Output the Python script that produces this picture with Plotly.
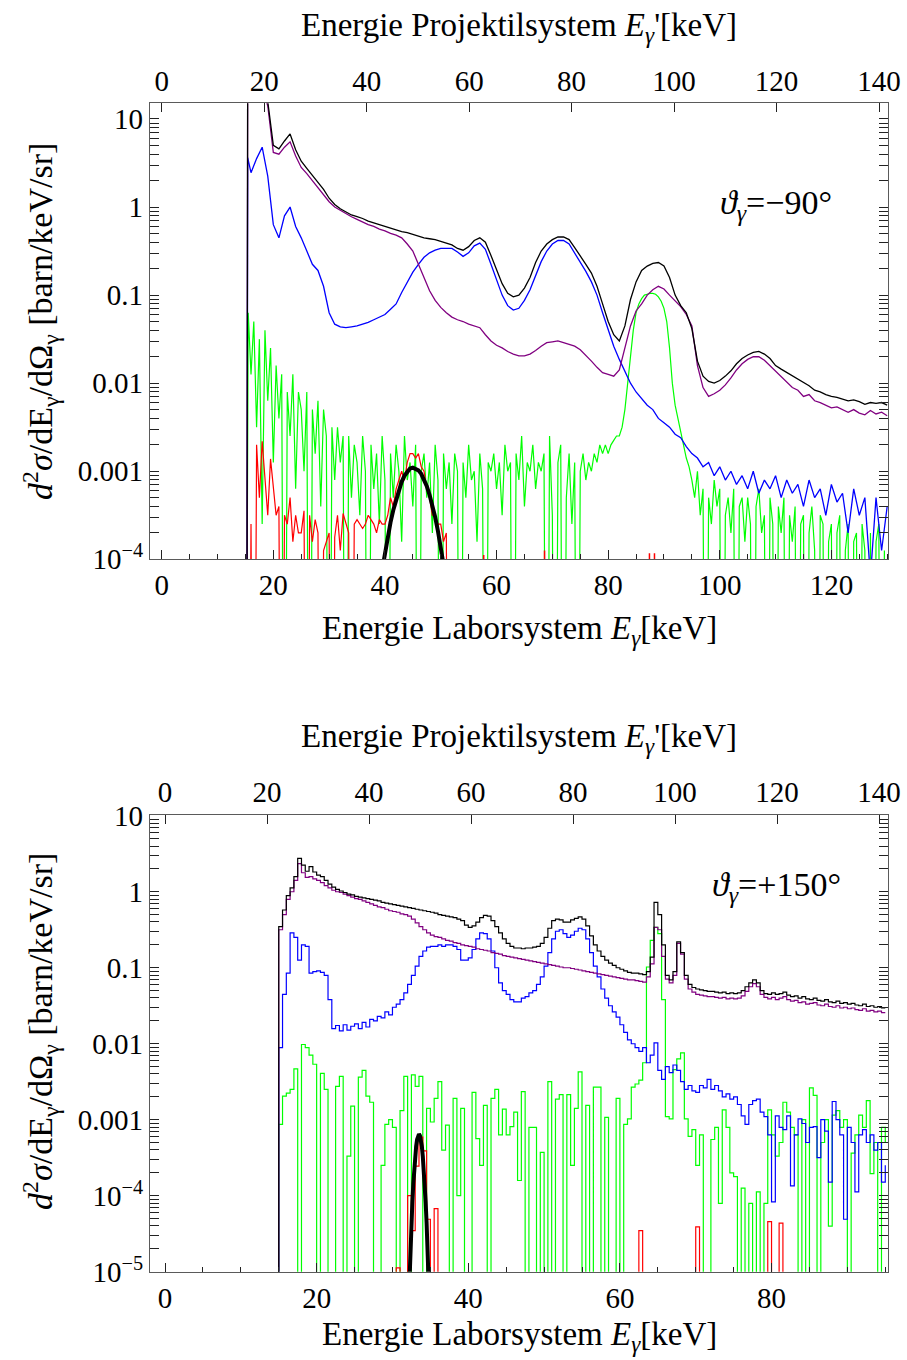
import numpy as np
import plotly.graph_objects as go

FONT = "Liberation Serif, Times New Roman, Times, DejaVu Serif, serif"
EMPTY = -9  # log10 value used for empty histogram bins (falls below the axis)

# ============ upper panel: theta = -90 deg (values stored as log10) ============
top_x = [15.2, 15.4] + list(range(16, 131))

top_black_log = [EMPTY, 1.5,
    1.5, 1.45, 1.35, 1.2, 0.7, 0.66, 0.75, 0.83, 0.65, 0.52,
    0.44, 0.36, 0.29, 0.2, 0.1, 0.03, -0.02, -0.06, -0.09, -0.11,
    -0.13, -0.16, -0.18, -0.2, -0.22, -0.24, -0.26, -0.28, -0.29, -0.31,
    -0.33, -0.35, -0.36, -0.37, -0.39, -0.41, -0.43, -0.47, -0.49, -0.45,
    -0.38, -0.35, -0.4, -0.55, -0.72, -0.87, -0.98, -1.02, -1.0, -0.92,
    -0.8, -0.63, -0.5, -0.42, -0.37, -0.34, -0.34, -0.37, -0.46, -0.55,
    -0.65, -0.75, -0.9, -1.1, -1.3, -1.45, -1.52, -1.35, -1.05, -0.85,
    -0.72, -0.67, -0.64, -0.63, -0.67, -0.8, -1.0, -1.12, -1.2, -1.38,
    -1.75, -1.92, -1.98, -2.0, -1.97, -1.92, -1.86, -1.78, -1.72, -1.68,
    -1.65, -1.64, -1.67, -1.72, -1.8, -1.84, -1.88, -1.92, -1.96, -2.0,
    -2.03, -2.08, -2.1, -2.13, -2.15, -2.16, -2.18, -2.2, -2.19, -2.21,
    -2.24, -2.22, -2.23, -2.22, -2.25]

top_purple_log = [EMPTY, 1.5,
    1.5, 1.45, 1.35, 1.15, 0.62, 0.6, 0.68, 0.74, 0.58, 0.45,
    0.38, 0.3, 0.23, 0.15, 0.06, 0.0, -0.04, -0.08, -0.11, -0.14,
    -0.17, -0.2, -0.22, -0.25, -0.27, -0.3, -0.32, -0.35, -0.42, -0.5,
    -0.65, -0.8, -0.95, -1.06, -1.14, -1.2, -1.25, -1.28, -1.3, -1.33,
    -1.35, -1.37, -1.45, -1.52, -1.57, -1.6, -1.64, -1.67, -1.69, -1.69,
    -1.67, -1.63, -1.58, -1.54, -1.53, -1.52, -1.54, -1.56, -1.58, -1.62,
    -1.68, -1.75, -1.82, -1.88, -1.9, -1.92, -1.85, -1.6, -1.35, -1.18,
    -1.1, -1.0, -0.94, -0.9, -0.93, -1.0, -1.07, -1.13, -1.22, -1.35,
    -1.8, -2.05, -2.15, -2.12, -2.08, -2.02, -1.94, -1.85, -1.78, -1.73,
    -1.7, -1.7, -1.74, -1.8, -1.87, -1.93, -1.98, -2.05, -2.08, -2.15,
    -2.13, -2.2, -2.22, -2.25, -2.28, -2.27, -2.3, -2.33, -2.3, -2.34,
    -2.36, -2.31, -2.35, -2.33, -2.37]

top_blue_log = [EMPTY, 0.56,
    0.39, 0.55, 0.68, 0.35, -0.2, -0.35, -0.1, 0.0, -0.22, -0.35,
    -0.5, -0.65, -0.72, -0.9, -1.2, -1.33, -1.36, -1.37, -1.36, -1.35,
    -1.33, -1.31, -1.28, -1.25, -1.22, -1.16, -1.1, -0.97, -0.85, -0.74,
    -0.65, -0.57, -0.52, -0.49, -0.47, -0.47, -0.47, -0.51, -0.56, -0.52,
    -0.44, -0.41, -0.48, -0.65, -0.83, -1.0, -1.12, -1.17, -1.15, -1.06,
    -0.94, -0.78, -0.62, -0.5, -0.42, -0.38, -0.38, -0.42, -0.52, -0.62,
    -0.73, -0.85, -1.0, -1.2, -1.4, -1.58, -1.73, -1.87, -2.0, -2.1,
    -2.17, -2.25, -2.3, -2.4, -2.45, -2.5, -2.58, -2.62, -2.72, -2.8,
    -2.85, -2.95, -2.9, -3.05, -2.95, -3.1, -3.0, -3.15, -3.05, -3.2,
    -3.0, -3.25, -3.1, -3.2, -3.05, -3.3, -3.1, -3.25, -3.15, -3.4,
    -3.1, -3.3, -3.2, -3.5, -3.15, -3.35, -3.25, -3.7, -3.2, -3.5,
    -3.3, -4.2, -3.3, -3.9, -3.4]

top_green_start, top_green_step = 15.0, 0.5
top_green_log = [
    EMPTY, -1.2, -1.9, -1.3, -2.5, -1.5, -3.6, -1.4, -2.2, -1.6,
    -2.9, -1.8, -2.4, -1.9, EMPTY, -2.1, -2.6, -1.9, -3.2, -2.1,
    -2.3, -3.0, -2.1, EMPTY, -2.3, -2.8, -2.2, -3.4, -2.3, -2.6,
    EMPTY, -2.5, -3.1, -2.5, -2.9, -2.6, EMPTY, -2.6, -3.3, -2.7,
    -2.9, -3.5, -2.6, -3.0, EMPTY, -2.7, -3.2, -2.8, -3.6, -2.6,
    -3.1, EMPTY, -2.8, -3.3, -2.7, -3.0, -3.8, -2.6, -3.1, -2.9,
    -3.4, -2.7, EMPTY, -3.0, -2.8, -3.3, -2.9, -3.7, -2.7, -3.1,
    EMPTY, -2.8, -3.2, -2.9, -3.6, -2.8, -3.0, EMPTY, -2.9, -3.3,
    -2.7, -3.1, -3.0, -3.8, -2.8, -3.2, EMPTY, -2.9, -3.0, -2.8,
    -3.2, -2.9, -3.5, -2.7, -3.0, -2.9, EMPTY, -2.8, -3.1, -2.6,
    -3.4, -2.9, -3.0, -2.7, -3.2, -2.9, -3.0, -2.8, EMPTY, -2.6,
    -3.5, EMPTY, -2.9, -2.7, EMPTY, -3.3, -2.8, -3.6, -2.9, EMPTY,
    -3.0, -2.8, -3.1, -2.9, -3.0, -2.8, -2.9, -2.7, -2.8, -2.7,
    -2.8, -2.7, -2.65, -2.6, -2.6, -2.5, -2.3, -2.0, -1.7, -1.4,
    -1.2, -1.1, -1.04, -1.0, -0.99, -0.98, -0.98, -0.99, -1.02, -1.07,
    -1.15, -1.3, -1.6, -2.0, -2.25, -2.4, -2.55, -2.7, -2.85, -2.95,
    -3.1, -3.3, -3.0, -3.5, -3.2, EMPTY, -3.3, -3.6, -3.1, -3.4,
    -3.2, EMPTY, -3.5, -3.3, -3.7, -3.2, EMPTY, -3.4, -3.3, -3.8,
    -3.3, -3.6, EMPTY, -3.4, -3.2, -3.7, -3.5, EMPTY, -3.3, -3.6,
    EMPTY, -3.4, -3.7, -3.3, EMPTY, -3.5, -3.8, -3.4, EMPTY, -3.6,
    -3.5, EMPTY, -3.7, -3.4, -3.9, EMPTY, -3.5, -3.6, EMPTY, -3.8,
    -3.6, EMPTY, -3.7, -3.5, EMPTY, -3.9, -3.6, EMPTY, -3.8, -3.7,
    EMPTY, -3.6, -3.9, EMPTY, -3.7, EMPTY, -3.8, -3.6, EMPTY, -3.9,
    EMPTY]

top_red_start, top_red_step = 15.0, 0.5
top_red_log = [
    EMPTY, EMPTY, -3.6, EMPTY, -2.7, -3.3, -2.66, -3.13, -3.5, -2.86,
    -3.2, -3.5, -3.4, EMPTY, -3.5, -3.6, -3.3, -3.8, -3.5, -3.7,
    -3.7, -3.45, EMPTY, -3.5, -3.8, -3.55, -3.7, EMPTY, -3.9, -3.8,
    -3.7, EMPTY, -3.75, -3.5, -3.9, -3.48, -3.6, -3.7, EMPTY, -3.6,
    -3.55, -3.6, -3.65, -3.6, -3.5, -3.55, -3.6, -3.7, -3.55, -3.6,
    -3.6, -3.5, -3.3, -3.4, -3.2, -3.1, -3.0, -3.1, -2.9, -2.8,
    -2.8, -2.85, -2.8, -2.95, -3.0, -3.2, -3.3, -3.5, -3.5, -3.6,
    -3.6, -3.8, -3.7, EMPTY, EMPTY]
top_red_spike_x = [57.7, 68.6, 87.4, 88.3]
top_red_spike_log = [-3.95, -3.9, -3.93, -3.93]

top_fit_x = [39.5 + 0.5 * i for i in range(24)]
top_fit_log = [-4.12, -3.92, -3.74, -3.58, -3.44, -3.32, -3.21, -3.12, -3.05, -3.00,
               -2.97, -2.96, -2.97, -2.99, -3.03, -3.09, -3.17, -3.27, -3.39, -3.52,
               -3.68, -3.85, -4.04, -4.25]

# ============ lower panel: theta = +150 deg (0.5 keV bins, left edges) ============
bot_start, bot_step = 14.5, 0.5

bot_black_log = [EMPTY,
    -0.46, -0.24, -0.05, 0.05, 0.2, 0.44, 0.35, 0.27, 0.33, 0.26,
    0.22, 0.2, 0.15, 0.1, 0.06, 0.03, 0.01, -0.01, -0.03, -0.04,
    -0.06, -0.07, -0.08, -0.09, -0.1, -0.11, -0.12, -0.14, -0.15, -0.16,
    -0.17, -0.18, -0.19, -0.2, -0.21, -0.22, -0.23, -0.24, -0.25, -0.26,
    -0.27, -0.28, -0.3, -0.31, -0.32, -0.33, -0.34, -0.36, -0.38, -0.44,
    -0.47, -0.45, -0.4, -0.34, -0.31, -0.32, -0.38, -0.46, -0.54, -0.62,
    -0.68, -0.72, -0.74, -0.74, -0.75, -0.74, -0.74, -0.73, -0.72, -0.68,
    -0.6, -0.48, -0.38, -0.36, -0.37, -0.4, -0.4, -0.37, -0.35, -0.33,
    -0.36, -0.45, -0.58, -0.7, -0.78, -0.85, -0.9, -0.94, -0.97, -1.0,
    -1.02, -1.04, -1.06, -1.07, -1.07, -1.08, -1.09, -1.05, -0.86, -0.14,
    -0.3, -0.7, -1.1, -1.16, -1.05, -0.66, -0.8, -1.1, -1.22, -1.26,
    -1.28, -1.29, -1.3, -1.31, -1.31, -1.32, -1.33, -1.32, -1.34, -1.33,
    -1.34, -1.33, -1.3, -1.25, -1.2, -1.16, -1.2, -1.3, -1.34, -1.35,
    -1.33, -1.35, -1.34, -1.32, -1.36, -1.38, -1.37, -1.4, -1.38, -1.41,
    -1.42, -1.4, -1.43, -1.44, -1.42, -1.45, -1.46, -1.44, -1.47, -1.46,
    -1.48, -1.47, -1.49, -1.5, -1.48, -1.51, -1.5, -1.52, -1.51, -1.53,
    -1.53]

bot_purple_log = [EMPTY,
    -0.5, -0.3, -0.1, 0.0, 0.15, 0.37, 0.25, 0.19, 0.2, 0.17,
    0.15, 0.12, 0.08, 0.05, 0.02, 0.0, -0.01, -0.03, -0.05, -0.07,
    -0.09, -0.1, -0.12, -0.14, -0.16, -0.18, -0.2, -0.21, -0.23, -0.25,
    -0.26, -0.27, -0.29, -0.3, -0.32, -0.36, -0.41, -0.46, -0.5, -0.54,
    -0.57, -0.59, -0.6, -0.62, -0.64, -0.65, -0.67, -0.68, -0.7, -0.71,
    -0.72, -0.73, -0.75, -0.76, -0.77, -0.78, -0.8, -0.81, -0.82, -0.84,
    -0.85, -0.86, -0.87, -0.88, -0.89, -0.9, -0.91, -0.92, -0.93, -0.94,
    -0.95, -0.96, -0.97, -0.98, -0.99, -1.0, -1.0, -1.01, -1.02, -1.03,
    -1.04, -1.05, -1.06, -1.07, -1.08, -1.09, -1.1, -1.11, -1.12, -1.13,
    -1.14, -1.15, -1.16, -1.16, -1.17, -1.18, -1.19, -1.12, -0.95, -0.47,
    -0.5, -0.85, -1.15, -1.2, -1.1, -0.68, -0.82, -1.15, -1.28, -1.32,
    -1.35, -1.36, -1.37, -1.38, -1.38, -1.39, -1.4, -1.39, -1.41, -1.4,
    -1.41, -1.4, -1.37, -1.31, -1.25, -1.21, -1.25, -1.35, -1.39, -1.41,
    -1.39, -1.42, -1.4, -1.38, -1.42, -1.44, -1.43, -1.46, -1.45, -1.48,
    -1.47, -1.46, -1.49, -1.5, -1.48, -1.51, -1.52, -1.5, -1.53, -1.52,
    -1.54, -1.53, -1.55, -1.56, -1.54, -1.57, -1.56, -1.58, -1.57, -1.59,
    -1.59]

bot_blue_log = [EMPTY,
    -2.05, -1.35, -1.07, -0.54, -0.6, -0.9, -0.7, -0.72, -1.07, -1.05,
    -1.04, -1.06, -1.1, -1.42, -1.8, -1.76, -1.83, -1.75, -1.82, -1.77,
    -1.74, -1.8, -1.72, -1.78, -1.68, -1.7, -1.64, -1.66, -1.58, -1.62,
    -1.52, -1.48, -1.42, -1.33, -1.22, -1.1, -0.98, -0.85, -0.78, -0.73,
    -0.72, -0.72, -0.7, -0.72, -0.7, -0.7, -0.72, -0.76, -0.9, -0.9,
    -0.87, -0.76, -0.62, -0.54, -0.55, -0.62, -0.78, -1.0, -1.2, -1.3,
    -1.35, -1.42, -1.45, -1.45, -1.4, -1.38, -1.33, -1.3, -1.22, -1.12,
    -0.98, -0.8, -0.62, -0.52, -0.5, -0.55, -0.6, -0.57, -0.52, -0.48,
    -0.5, -0.62, -0.8, -0.98, -1.12, -1.28, -1.4, -1.5, -1.58, -1.65,
    -1.75, -1.85, -1.95, -2.0, -2.05, -2.1, -2.05, -2.25, -2.15, -1.99,
    -2.35, -2.47, -2.3, -2.38, -2.28, -2.35, -2.5, -2.6, -2.55, -2.62,
    -2.64, -2.55, -2.58, -2.47, -2.6, -2.55, -2.62, -2.7, -2.66, -2.73,
    -2.7, -2.8, -2.95, -3.06, -2.8, -2.75, -2.73, -2.9, -2.96, -3.2,
    -4.08, -2.95, -3.1, -3.13, -2.95, -3.87, -3.2, -2.99, -3.05, -3.3,
    -3.1, -3.09, -3.5, -3.0, -3.15, -3.82, -2.76, -3.0, -3.2, -4.31,
    -3.1, -3.3, -3.95, -3.2, -3.13, -3.3, -3.2, -3.4, -3.3, -3.82,
    -3.6]

bot_green_log = [EMPTY,
    -3.06, -2.69, -2.65, -2.6, -2.33, EMPTY, -2.01, -2.05, -2.15, -2.27,
    EMPTY, -2.39, -2.6, EMPTY, EMPTY, -2.56, -2.43, EMPTY, -3.48, -2.82,
    EMPTY, -2.44, -2.35, -2.69, -2.77, EMPTY, EMPTY, -3.6, -3.06, -3.0,
    -3.1, EMPTY, -2.88, -2.43, EMPTY, -2.41, -2.56, -2.43, EMPTY, -2.85,
    -3.03, -2.72, -2.5, -3.4, -3.07, EMPTY, -2.72, -4.0, -2.85, EMPTY,
    EMPTY, -2.64, -3.25, -3.6, -2.81, EMPTY, -2.72, -2.6, -3.2, -2.86,
    -3.2, -3.09, -2.9, -3.8, -2.63, EMPTY, -3.1, -3.1, EMPTY, -3.43,
    EMPTY, -2.5, EMPTY, -2.73, -2.67, EMPTY, -2.67, -3.6, -2.85, -2.37,
    EMPTY, -2.81, EMPTY, -2.57, -2.57, EMPTY, -2.97, EMPTY, EMPTY, -2.72,
    EMPTY, -3.06, -2.99, -2.57, -2.53, -2.48, -2.25, -0.99, -0.64, -0.47,
    -0.55, -1.42, -2.96, -2.99, -2.34, -2.2, -2.12, -2.99, -3.22, -3.13,
    -3.6, -3.2, EMPTY, EMPTY, -3.26, -3.1, -4.1, -2.87, -3.1, -3.7,
    -3.75, EMPTY, -3.9, EMPTY, -4.1, EMPTY, -3.95, EMPTY, -4.1, -2.87,
    -3.2, -3.48, -3.3, -2.77, -2.9, -3.1, -3.2, EMPTY, -3.0, EMPTY,
    -2.58, -2.68, EMPTY, -3.3, -3.0, -4.4, -2.94, -2.88, -3.1, -3.0,
    EMPTY, -3.44, -3.2, -2.94, -3.1, -2.75, -3.71, -3.3, EMPTY, -3.1,
    -3.3]

# red: only the filled bins (left edge, log10 value)
bot_red_bins = [30.5, 32.0, 32.5, 33.0, 33.5, 34.0, 34.5, 35.5, 62.5, 70.0, 79.5, 81.0]
bot_red_log = [-4.95, -4.0, -4.46, -3.61, -3.23, -3.41, -4.31, -4.17, -4.46, -4.41, -4.34, -4.36]

bot_fit_x = [32.0 + 0.125 * i for i in range(25)]
bot_fit_log = [-5.80, -5.38, -5.00, -4.66, -4.35, -4.08, -3.84, -3.64, -3.48, -3.35,
               -3.26, -3.21, -3.19, -3.21, -3.26, -3.35, -3.48, -3.64, -3.84, -4.08,
               -4.35, -4.66, -5.00, -5.38, -5.80]

# ============ figure ============
def val(logs):
    return np.power(10.0, np.asarray(logs, dtype=float))

def grid(start, step, n):
    return start + step * np.arange(n)

BLACK, PURPLE, BLUE, GREEN, RED = "#000000", "#800080", "#0000ff", "#00ff00", "#ff0000"

fig = go.Figure()

# ---- upper panel ----
gx = grid(top_green_start, top_green_step, len(top_green_log))
fig.add_trace(go.Scatter(x=gx, y=val(top_green_log), mode="lines",
                         line=dict(color=GREEN, width=1.2), xaxis="x", yaxis="y"))
rx = grid(top_red_start, top_red_step, len(top_red_log))
fig.add_trace(go.Scatter(x=rx, y=val(top_red_log), mode="lines",
                         line=dict(color=RED, width=1.2), xaxis="x", yaxis="y"))
sx, sy = [], []
for xx, ll in zip(top_red_spike_x, top_red_spike_log):
    sx += [xx, xx, None]
    sy += [10.0 ** EMPTY, 10.0 ** ll, None]
fig.add_trace(go.Scatter(x=sx, y=sy, mode="lines", line=dict(color=RED, width=1.5),
                         xaxis="x", yaxis="y"))
for logs, col in [(top_blue_log, BLUE), (top_purple_log, PURPLE), (top_black_log, BLACK)]:
    fig.add_trace(go.Scatter(x=top_x, y=val(logs), mode="lines",
                             line=dict(color=col, width=1.3), xaxis="x", yaxis="y"))
fig.add_trace(go.Scatter(x=top_fit_x, y=val(top_fit_log), mode="lines",
                         line=dict(color=BLACK, width=4), xaxis="x", yaxis="y"))
fig.add_trace(go.Scatter(x=[], y=[], xaxis="x2", yaxis="y", hoverinfo="skip"))

# ---- lower panel ----
bx = grid(bot_start, bot_step, len(bot_black_log))
fig.add_trace(go.Scatter(x=bx, y=val(bot_green_log), mode="lines", line_shape="hv",
                         line=dict(color=GREEN, width=1.2), xaxis="x3", yaxis="y2"))
red_full = np.full(len(bx), float(EMPTY))
for b, l in zip(bot_red_bins, bot_red_log):
    red_full[int(round((b - bot_start) / bot_step))] = l
fig.add_trace(go.Scatter(x=bx, y=val(red_full), mode="lines", line_shape="hv",
                         line=dict(color=RED, width=1.2), xaxis="x3", yaxis="y2"))
for logs, col in [(bot_blue_log, BLUE), (bot_purple_log, PURPLE), (bot_black_log, BLACK)]:
    fig.add_trace(go.Scatter(x=bx, y=val(logs), mode="lines", line_shape="hv",
                             line=dict(color=col, width=1.2), xaxis="x3", yaxis="y2"))
fig.add_trace(go.Scatter(x=bot_fit_x, y=val(bot_fit_log), mode="lines",
                         line=dict(color=BLACK, width=4), xaxis="x3", yaxis="y2"))
fig.add_trace(go.Scatter(x=[], y=[], xaxis="x4", yaxis="y2", hoverinfo="skip"))

LINE = "#5a5a5a"
TICKC = "#222222"
tickfont = dict(family=FONT, size=29, color="black")
base = dict(showline=True, linecolor=LINE, linewidth=1.3, ticks="inside", tickcolor=TICKC,
            ticklen=9, tickwidth=1, tickfont=tickfont, showgrid=False, zeroline=False,
            automargin=False, fixedrange=True)

XDOM = [150 / 907, 888.3 / 907]
TOP_YDOM = [1 - 559.3 / 1360, 1 - 103.3 / 1360]
BOT_YDOM = [1 - 1271.7 / 1360, 1 - 815 / 1360]

ytop_vals = [10, 1, 0.1, 0.01, 0.001, 1e-4]
ytop_text = ["10", "1", "0.1", "0.01", "0.001", "10<sup>\u22124</sup>"]
ybot_vals = [10, 1, 0.1, 0.01, 0.001, 1e-4, 1e-5]
ybot_text = ["10", "1", "0.1", "0.01", "0.001", "10<sup>\u22124</sup>", "10<sup>\u22125</sup>"]
minor_x = dict(ticks="inside", dtick=5, tick0=0, ticklen=5, tickcolor=TICKC)
minor_y = dict(ticks="inside", dtick="D1", ticklen=5, tickcolor=TICKC)

fig.update_layout(
    width=907, height=1360, margin=dict(l=0, r=0, t=0, b=0),
    paper_bgcolor="white", plot_bgcolor="white", showlegend=False,
    font=dict(family=FONT, size=29, color="black"),
    xaxis=dict(base, domain=XDOM, range=[-2.1, 130.2], anchor="y", side="bottom",
               tickvals=[0, 20, 40, 60, 80, 100, 120], minor=minor_x),
    xaxis2=dict(base, range=[-2.28, 141.8], anchor="y", overlaying="x", side="top",
                tickvals=[0, 20, 40, 60, 80, 100, 120, 140]),
    yaxis=dict(base, domain=TOP_YDOM, type="log", range=[-4, 1.178], anchor="x",
               tickvals=ytop_vals, ticktext=ytop_text, mirror="allticks", minor=minor_y),
    xaxis3=dict(base, domain=XDOM, range=[-1.98, 95.4], anchor="y2", side="bottom",
                tickvals=[0, 20, 40, 60, 80], minor=minor_x),
    xaxis4=dict(base, range=[-2.94, 141.8], anchor="y2", overlaying="x3", side="top",
                tickvals=[0, 20, 40, 60, 80, 100, 120, 140]),
    yaxis2=dict(base, domain=BOT_YDOM, type="log", range=[-5, 1.01], anchor="x3",
                tickvals=ybot_vals, ticktext=ybot_text, mirror="allticks", minor=minor_y),
)

def ann(text, x, y, angle=0, size=33):
    fig.add_annotation(text=text, x=x / 907, y=1 - y / 1360, xref="paper", yref="paper",
                       showarrow=False, textangle=angle, xanchor="center", yanchor="middle",
                       font=dict(family=FONT, size=size, color="black"))

x_top_title = "Energie Projektilsystem <i>E</i><sub><i>\u03b3</i></sub>'[keV]"
x_bot_title = "Energie Laborsystem <i>E</i><sub><i>\u03b3</i></sub>[keV]"
y_title = "<i>d</i><sup>2</sup><i>\u03c3</i>/dE<sub>\u03b3</sub>/d\u03a9<sub>\u03b3</sub> [barn/keV/sr]"

ann(x_top_title, 519, 27)
ann(x_bot_title, 519, 630)
ann(y_title, 40, 322, angle=-90, size=34)
ann("<i>\u03d1</i><sub><i>\u03b3</i></sub>=\u221290\u00b0", 776, 205, size=34)

ann(x_top_title, 519, 738)
ann(x_bot_title, 519, 1336)
ann(y_title, 40, 1032, angle=-90, size=34)
ann("<i>\u03d1</i><sub><i>\u03b3</i></sub>=+150\u00b0", 776, 887, size=34)

fig.write_html("out.html", config={"displayModeBar": False},
               post_script="document.body.style.margin='0';document.body.style.overflow='hidden';")
